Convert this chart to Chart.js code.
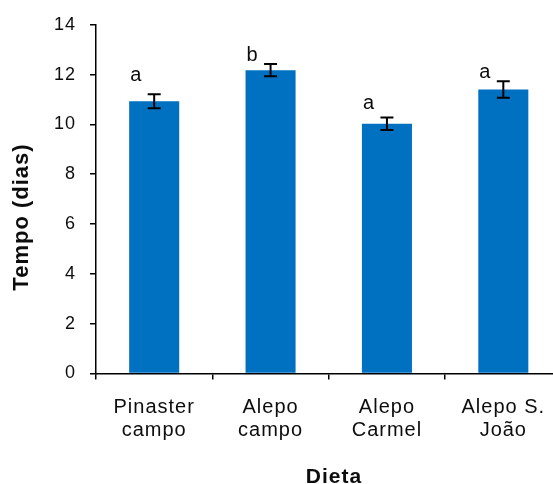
<!DOCTYPE html>
<html>
<head>
<meta charset="utf-8">
<script src="https://cdn.jsdelivr.net/npm/chart.js@4.4.0/dist/chart.umd.min.js"></script>
<style>
  html, body { margin: 0; padding: 0; background: #fff; }
  #wrap { width: 553px; height: 484px; overflow: hidden; }
  canvas { display: block; }
</style>
</head>
<body>
<div id="wrap"><canvas id="grafico" width="566" height="484"></canvas></div>
<script>
const dietas = [['Pinaster', 'campo'], ['Alepo', 'campo'], ['Alepo', 'Carmel'], ['Alepo S.', 'João']];
const tempoMedio = [10.93, 12.18, 10.03, 11.4];
const erroPadrao = [0.28, 0.25, 0.25, 0.33];
const letras = ['a', 'b', 'a', 'a'];
const letraY = [11.74, 12.54, 10.62, 11.87]; // altura (em dias) da base de cada letra
const tituloY = 'Tempo (dias)';
const tituloX = 'Dieta';

const corTexto = '#0d0d0d';
const fonte = '"Liberation Sans", Arial, sans-serif';

// o original tem as letras um pouco afastadas
const espacamento = {
  id: 'espacamento',
  beforeDraw(chart) { chart.ctx.letterSpacing = '1px'; }
};

const barrasErro = {
  id: 'barrasErro',
  afterDatasetsDraw(chart) {
    const ctx = chart.ctx;
    const y = chart.scales.y;
    const meta = chart.getDatasetMeta(0);
    ctx.save();
    ctx.strokeStyle = '#000';
    ctx.lineWidth = 2;
    meta.data.forEach((bar, i) => {
      const alto = y.getPixelForValue(tempoMedio[i] + erroPadrao[i]);
      const baixo = y.getPixelForValue(tempoMedio[i] - erroPadrao[i]);
      const x = bar.x;
      ctx.beginPath();
      ctx.moveTo(x, alto); ctx.lineTo(x, baixo);
      ctx.moveTo(x - 6.5, alto); ctx.lineTo(x + 6.5, alto);
      ctx.moveTo(x - 6.5, baixo); ctx.lineTo(x + 6.5, baixo);
      ctx.stroke();
    });
    // letras de significância
    ctx.fillStyle = corTexto;
    ctx.font = '20px ' + fonte;
    ctx.textAlign = 'center';
    ctx.textBaseline = 'alphabetic';
    meta.data.forEach((bar, i) => {
      ctx.fillText(letras[i], bar.x - 18, y.getPixelForValue(letraY[i]));
    });
    ctx.restore();
  }
};

const titulos = {
  id: 'titulos',
  afterDraw(chart) {
    const ctx = chart.ctx;
    ctx.save();
    ctx.fillStyle = corTexto;
    ctx.textAlign = 'center';
    ctx.textBaseline = 'alphabetic';
    ctx.font = 'bold 22px ' + fonte;
    ctx.translate(28, 217);
    ctx.rotate(-Math.PI / 2);
    ctx.fillText(tituloY, 0, 0);
    ctx.restore();

    ctx.save();
    ctx.fillStyle = corTexto;
    ctx.textAlign = 'center';
    ctx.textBaseline = 'alphabetic';
    ctx.font = 'bold 21px ' + fonte;
    ctx.fillText(tituloX, 334, 483);
    ctx.restore();
  }
};

const ctx = document.getElementById('grafico');

new Chart(ctx, {
  type: 'bar',
  data: {
    labels: dietas,
    datasets: [{
      data: tempoMedio,
      backgroundColor: '#0070C0',
      barPercentage: 0.43,
      categoryPercentage: 1
    }]
  },
  options: {
    responsive: false,
    animation: false,
    devicePixelRatio: 1,
    layout: { padding: { top: 23.5, right: 4.5, left: 0, bottom: 0 } },
    plugins: {
      legend: { display: false },
      tooltip: { enabled: false }
    },
    scales: {
      x: {
        grid: { drawOnChartArea: false, tickLength: 6, color: '#000', lineWidth: 1.5, offset: true },
        border: { color: '#000', width: 1.5 },
        ticks: {
          color: corTexto,
          font: { family: fonte, size: 20, lineHeight: 1.15 },
          padding: 16,
          maxRotation: 0,
          autoSkip: false
        },
        afterFit(s) { s.height = 110.5; }
      },
      y: {
        min: 0,
        max: 14,
        ticks: {
          stepSize: 2,
          color: corTexto,
          font: { family: fonte, size: 18 },
          padding: 14
        },
        grid: { drawOnChartArea: false, tickLength: 6, color: '#000', lineWidth: 1.5 },
        border: { color: '#000', width: 1.5 },
        afterFit(s) { s.width = 96; }
      }
    }
  },
  plugins: [espacamento, barrasErro, titulos]
});
</script>
</body>
</html>
